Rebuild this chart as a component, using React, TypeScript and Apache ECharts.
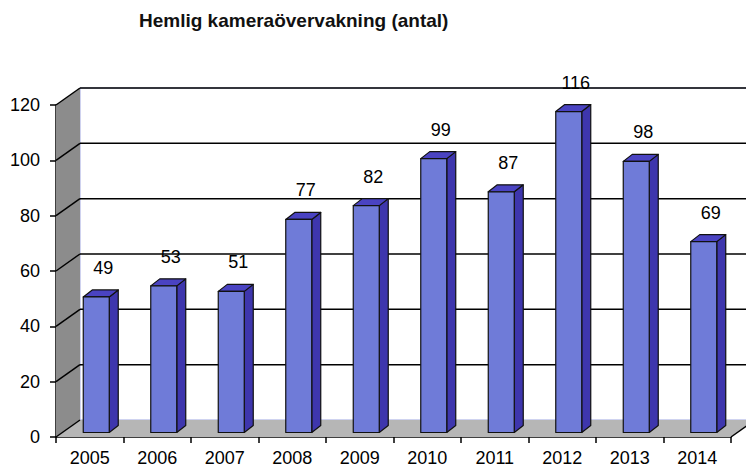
import React, { useEffect, useRef } from "react";
import * as echarts from "echarts";

const years = ["2005", "2006", "2007", "2008", "2009", "2010", "2011", "2012", "2013", "2014"];
const counts = [49, 53, 51, 77, 82, 99, 87, 116, 98, 69];
const yTicks = [0, 20, 40, 60, 80, 100, 120];
const chartTitle = "Hemlig kameraövervakning (antal)";

const FONT = "'Liberation Sans', Arial, sans-serif";
const WDX = 24; // wall depth x
const WDY = -17; // wall depth y
const BDX = 9; // bar depth x
const BDY = -7; // bar depth y
const OFX = 6.5; // bar front plane offset
const OFY = -4.5;

export default function App() {
  const ref = useRef<HTMLDivElement>(null);
  useEffect(() => {
    if (!ref.current) return;
    const chart = echarts.init(ref.current, null, { renderer: "svg" });
    const option: any = {
      animation: false,
      backgroundColor: "#ffffff",
      title: {
        text: chartTitle,
        left: 134,
        top: 6,
        textStyle: { fontFamily: FONT, fontSize: 19, fontWeight: "bold", color: "#111" },
      },
      grid: { left: 56, top: 105, width: 675, height: 332, containLabel: false },
      xAxis: {
        type: "category",
        data: years,
        boundaryGap: true,
        axisLine: { show: true, lineStyle: { color: "#000", width: 1.5 } },
        axisTick: { show: true, length: 6, alignWithLabel: false, lineStyle: { color: "#000", width: 1.5 } },
        axisLabel: { fontFamily: FONT, fontSize: 18, color: "#000", margin: 12 },
        splitLine: { show: false },
      },
      yAxis: {
        type: "value",
        min: 0,
        max: 120,
        interval: 20,
        axisLine: { show: true, lineStyle: { color: "#000", width: 1.5 } },
        axisTick: { show: true, length: 6, lineStyle: { color: "#000", width: 1.5 } },
        axisLabel: { fontFamily: FONT, fontSize: 18, color: "#000", margin: 16 },
        splitLine: { show: false },
      },
      series: [
        {
          type: "custom",
          z: 1,
          silent: true,
          data: [[0, 0]],
          renderItem: (params: any, api: any) => {
            const cs = params.coordSys;
            const x0 = cs.x;
            const x1 = cs.x + cs.width;
            const yb = api.coord([0, 0])[1];
            const yt = api.coord([0, yTicks[yTicks.length - 1]])[1];
            const children: any[] = [];
            children.push({
              type: "rect",
              shape: { x: x0 + WDX, y: yt + WDY, width: 800, height: yb - yt },
              style: { fill: "#ffffff", stroke: "#9fa6e0", lineWidth: 1 },
            });
            children.push({
              type: "polygon",
              shape: { points: [[x0, yb], [x0 + WDX, yb + WDY], [x0 + WDX, yt + WDY], [x0, yt]] },
              style: { fill: "#8c8c8c", stroke: "none" },
            });
            children.push({
              type: "polygon",
              shape: { points: [[x0, yb], [x1, yb], [x1 + WDX, yb + WDY], [x0 + WDX, yb + WDY]] },
              style: { fill: "#b6b6b6", stroke: "none" },
            });
            children.push({
              type: "line",
              shape: { x1: x1, y1: yb, x2: x1 + WDX, y2: yb + WDY },
              style: { stroke: "#000", lineWidth: 1.5 },
            });
            yTicks.forEach((t) => {
              const y = api.coord([0, t])[1];
              children.push({
                type: "line",
                shape: { x1: x0, y1: y, x2: x0 + WDX, y2: y + WDY },
                style: { stroke: "#000", lineWidth: 1.5 },
              });
              if (t > 0) {
                children.push({
                  type: "line",
                  shape: { x1: x0 + WDX, y1: y + WDY, x2: 760, y2: y + WDY },
                  style: { stroke: "#000", lineWidth: 1.5 },
                });
              }
            });
            return { type: "group", children };
          },
        },
        {
          type: "custom",
          z: 2,
          data: counts.map((v, i) => [i, v]),
          renderItem: (params: any, api: any) => {
            const i = api.value(0);
            const v = api.value(1);
            const top = api.coord([i, v]);
            const base = api.coord([i, 0]);
            const band = api.size([1, 0])[0];
            const w = band * 0.385;
            const cx = top[0] + OFX;
            const xl = cx - w / 2;
            const xr = cx + w / 2;
            const yt = top[1] + OFY;
            const yb = base[1] + OFY;
            const stroke = { stroke: "#111", lineWidth: 1.2, lineJoin: "round" };
            return {
              type: "group",
              children: [
                {
                  type: "polygon",
                  shape: { points: [[xr, yb], [xr + BDX, yb + BDY], [xr + BDX, yt + BDY], [xr, yt]] },
                  style: { fill: "#3e36ad", ...stroke },
                },
                {
                  type: "polygon",
                  shape: { points: [[xl, yt], [xr, yt], [xr + BDX, yt + BDY], [xl + BDX, yt + BDY]] },
                  style: { fill: "#4a43c2", ...stroke },
                },
                {
                  type: "rect",
                  shape: { x: xl, y: yt, width: w, height: yb - yt },
                  style: { fill: "#6f7bd8", ...stroke },
                },
                {
                  type: "text",
                  style: {
                    text: String(v),
                    x: cx + 7,
                    y: yt - 29,
                    align: "center",
                    verticalAlign: "middle",
                    fontFamily: FONT,
                    fontSize: 18,
                    fill: "#000",
                  },
                },
              ],
            };
          },
        },
      ],
    };
    chart.setOption(option);
    return () => chart.dispose();
  }, []);
  return (
    <div
      ref={ref}
      style={{ position: "fixed", left: 0, top: 0, width: 746, height: 468, background: "#fff" }}
    />
  );
}
